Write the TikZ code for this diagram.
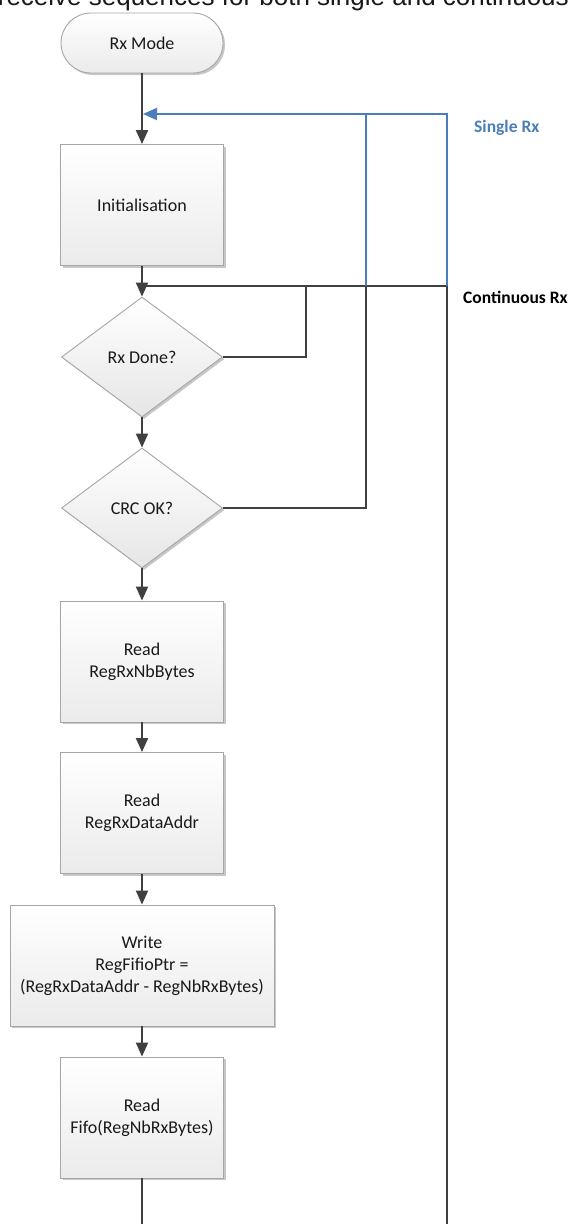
\documentclass[tikz,border=0pt]{standalone}
\usepackage{fontspec}
\setmainfont{Carlito}
\newfontfamily\capfont{Liberation Sans}
\usetikzlibrary{shapes.geometric,arrows.meta,shadows}
\definecolor{lineC}{HTML}{404040}
\definecolor{blueC}{HTML}{4A7EBB}
\definecolor{borderC}{HTML}{A6A6A6}
\begin{document}
\begin{tikzpicture}[x=1pt,y=-1pt,
  font=\fontsize{18}{22}\selectfont,
  shad/.style={drop shadow={shadow xshift=2pt,shadow yshift=-2pt,opacity=0.22,fill=black}},
  box/.style={draw=borderC,line width=0.9pt,top color=white,bottom color=black!8,
    minimum width=163pt,minimum height=121pt,inner sep=2pt,align=center,text=black!90,shad},
  term/.style={draw=borderC,line width=0.9pt,top color=white,bottom color=black!8,
    rounded corners=30pt,minimum width=162pt,minimum height=60pt,inner sep=2pt,text=black!90,shad},
  dec/.style={diamond,draw=borderC,line width=0.9pt,top color=white,bottom color=black!10,
    minimum width=161pt,minimum height=120pt,inner sep=0pt,text=black!90,shad},
  conn/.style={draw=lineC,line width=2pt},
  flow/.style={conn,-{Triangle[length=14pt,width=12pt]}},
  blueconn/.style={draw=blueC,line width=2pt},
  lbl/.style={anchor=west,inner sep=0pt,font=\fontsize{17.5}{22}\selectfont\bfseries}
]
\fill[white] (0,0) rectangle (572,1224);
\useasboundingbox (0,0) rectangle (572,1224);

\node[anchor=base east,inner sep=0pt,text=black!90,font=\capfont\fontsize{26}{30}\selectfont] (cap) at (569,5)
  {receive sequences for both single and continuous};

\node[term] (mode) at (142,43) {Rx Mode};
\node[box] (init) at (142,205) {Initialisation};
\node[dec] (done) at (142,357) {Rx Done?};
\node[dec] (crc) at (142,508) {CRC OK?};
\node[box] (nb) at (142,661.5) {Read\\RegRxNbBytes};
\node[box] (addr) at (142,813) {Read\\RegRxDataAddr};
\node[box,minimum width=264pt] (write) at (142,965.5) {Write\\RegFifioPtr =\\(RegRxDataAddr - RegNbRxBytes)};
\node[box] (fifo) at (142,1117.5) {Read\\Fifo(RegNbRxBytes)};

\coordinate (jm) at (142,286);
\coordinate (jd) at (306,286);
\coordinate (jc) at (366,286);
\coordinate (jk) at (447,286);
\coordinate (bm) at (142,1226);
\coordinate (bk) at (447,1226);
\coordinate (bj) at (143,114);
\coordinate (sc) at (366,114);
\coordinate (sk) at (447,114);

\draw[flow] (mode) -- (init);
\draw[flow] (init) -- (done);
\draw[flow] (done) -- (crc);
\draw[flow] (crc) -- (nb);
\draw[flow] (nb) -- (addr);
\draw[flow] (addr) -- (write);
\draw[flow] (write) -- (fifo);
\draw[conn] (fifo) -- (bm);

\draw[conn] (bk) -- (jk) -- (jm);
\draw[conn] (done.east) -| (jd);
\draw[conn] (crc.east) -| (jc);

\draw[blueconn,-{Triangle[length=14pt,width=12pt]}] (jk) -- (sk) -- (bj);
\draw[blueconn] (jc) -- (sc);

\node[lbl,text=blueC] (single) at (474,128) {Single Rx};
\node[lbl,text=black] (cont) at (463,297) {Continuous Rx};
\end{tikzpicture}
\end{document}
